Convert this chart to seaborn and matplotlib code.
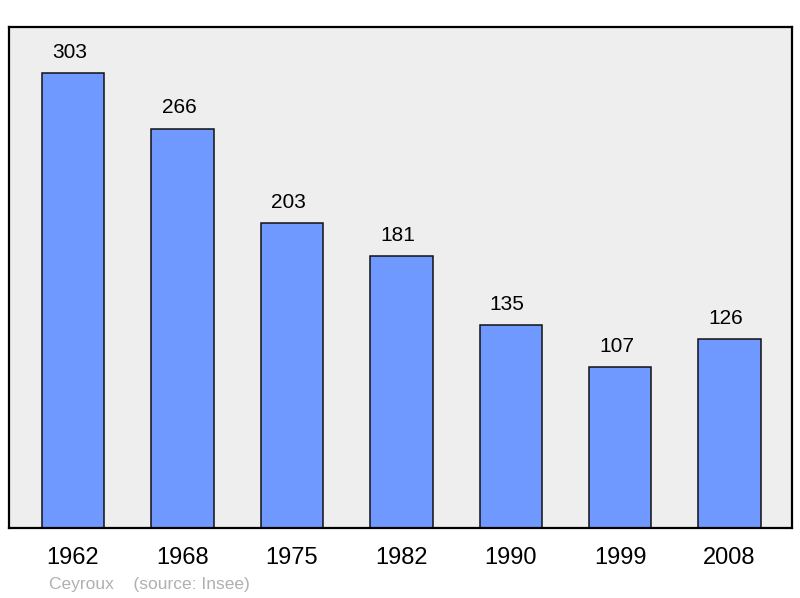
""" Population bar chart for Ceyroux (source: Insee) """
import matplotlib
matplotlib.use('Agg')
import matplotlib.pyplot as plt
import seaborn as sns
import pandas as pd

years = ['1962', '1968', '1975', '1982', '1990', '1999', '2008']
population = [303, 266, 203, 181, 135, 107, 126]

bar_color = '#7099ff'
panel_color = '#eeeeee'

sns.set_style('white')
plt.rcParams['font.family'] = ['Liberation Sans', 'DejaVu Sans']

df = pd.DataFrame({'year': years, 'population': population})

fig = plt.figure(figsize=(8, 5.98), dpi=100)
ax = fig.add_axes([9 / 800, 1 - 528 / 598, 783 / 800, 501 / 598])
ax.set_facecolor(panel_color)

sns.barplot(data=df, x='year', y='population', color=bar_color, saturation=1,
            width=0.57, edgecolor='#111111', linewidth=1.1, ax=ax)

""" Value labels above each bar """
for i, v in enumerate(population):
    ax.annotate(str(v), (i, v), xytext=(-2.5, 8), textcoords='offset points',
                ha='center', va='bottom', fontsize=15, color='black')

ax.set_xlim(-0.585, 6.57)
ax.set_ylim(0, 333.6)
ax.set(xlabel=None, ylabel=None)
ax.set_yticks([])
ax.tick_params(axis='x', length=0, pad=14, labelsize=17, colors='black')
for spine in ax.spines.values():
    spine.set_visible(True)
    spine.set_color('black')
    spine.set_linewidth(1.6)

fig.text(49 / 800, 1 - 584 / 598, 'Ceyroux    (source: Insee)', fontsize=12.5,
         color='#b0b0b0', ha='left', va='center')

fig.savefig('out.png', dpi=100)
